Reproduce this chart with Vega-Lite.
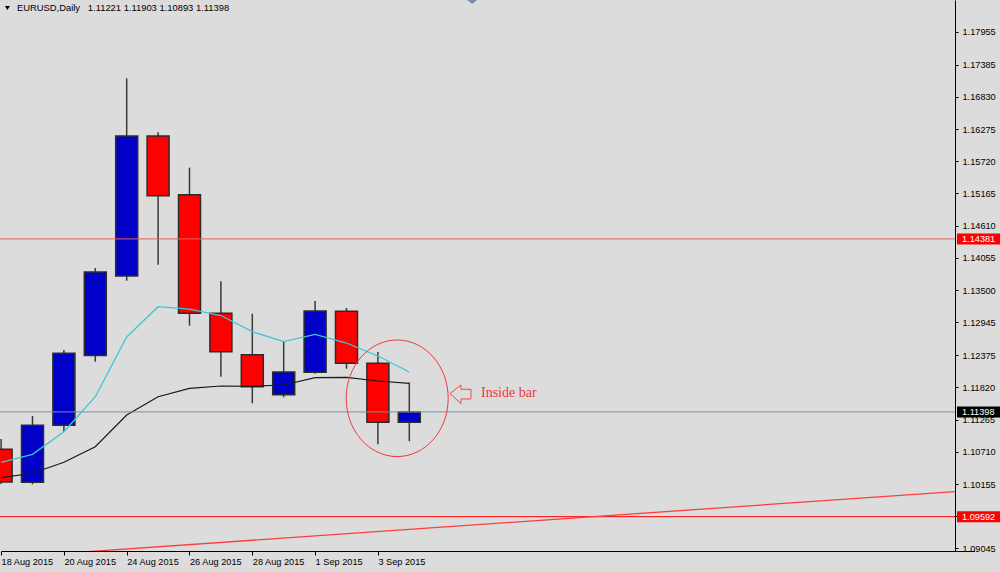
{
  "$schema": "https://vega.github.io/schema/vega-lite/v6.json",
  "width": 955,
  "height": 551,
  "autosize": {"type": "none"},
  "padding": {"left": 0, "top": 0, "right": 45, "bottom": 21},
  "background": "#dcdcdc",
  "config": {
    "view": {"stroke": null, "fill": "#dcdcdc"},
    "font": "Liberation Sans",
    "axis": {"labelFont": "Liberation Sans", "labelFontSize": 9.2, "labelColor": "#000000", "domainColor": "#000000", "tickColor": "#000000", "grid": false, "domainWidth": 1, "tickWidth": 1}
  },
  "resolve": {"axis": {"x": "independent", "y": "independent"}},
  "datasets": {
    "candles": [
      {"date": "18 Aug 2015", "open": 1.10753, "high": 1.10931, "low": 1.10155, "close": 1.10190, "fast": 1.10529, "slow": 1.10264},
      {"date": "19 Aug 2015", "open": 1.10184, "high": 1.11328, "low": 1.10150, "close": 1.11167, "fast": 1.10667, "slow": 1.10340},
      {"date": "20 Aug 2015", "open": 1.11167, "high": 1.12466, "low": 1.11057, "close": 1.12409, "fast": 1.11057, "slow": 1.10529},
      {"date": "21 Aug 2015", "open": 1.12369, "high": 1.13879, "low": 1.12264, "close": 1.13810, "fast": 1.11660, "slow": 1.10798},
      {"date": "24 Aug 2015", "open": 1.13741, "high": 1.17150, "low": 1.13660, "close": 1.16155, "fast": 1.12690, "slow": 1.11345},
      {"date": "25 Aug 2015", "open": 1.16155, "high": 1.16219, "low": 1.13936, "close": 1.15126, "fast": 1.13212, "slow": 1.11660},
      {"date": "26 Aug 2015", "open": 1.15143, "high": 1.15609, "low": 1.12884, "close": 1.13098, "fast": 1.13172, "slow": 1.11805},
      {"date": "27 Aug 2015", "open": 1.13098, "high": 1.13650, "low": 1.12005, "close": 1.12436, "fast": 1.13060, "slow": 1.11845},
      {"date": "28 Aug 2015", "open": 1.12384, "high": 1.13091, "low": 1.11547, "close": 1.11833, "fast": 1.12781, "slow": 1.11840},
      {"date": "31 Aug 2015", "open": 1.11695, "high": 1.12609, "low": 1.11650, "close": 1.12086, "fast": 1.12609, "slow": 1.11862},
      {"date": "1 Sep 2015", "open": 1.12081, "high": 1.13310, "low": 1.12057, "close": 1.13138, "fast": 1.12736, "slow": 1.11988},
      {"date": "2 Sep 2015", "open": 1.13133, "high": 1.13190, "low": 1.12143, "close": 1.12236, "fast": 1.12586, "slow": 1.11995},
      {"date": "3 Sep 2015", "open": 1.12236, "high": 1.12431, "low": 1.10840, "close": 1.11221, "fast": 1.12362, "slow": 1.11931},
      {"date": "4 Sep 2015", "open": 1.11221, "high": 1.11903, "low": 1.10893, "close": 1.11398, "fast": 1.12086, "slow": 1.11891}
    ],
    "levels": [
      {"name": "resistance", "price": 1.14381},
      {"name": "current", "price": 1.11398},
      {"name": "support", "price": 1.09592}
    ],
    "trend": [
      {"from": "20 Aug 2015", "to": "30 Sep 2015", "start": 1.08960, "end": 1.10048}
    ],
    "note": [
      {"date": "4 Sep 2015", "price": 1.11633, "text": "Inside bar"}
    ],
    "header": [
      {"date": "18 Aug 2015", "price": 1.185, "text": "EURUSD,Daily\u00a0\u00a0 1.11221 1.11903 1.10893 1.11398"}
    ],
    "marker": [
      {"date": "8 Sep 2015", "price": 1.185}
    ]
  },
  "layer": [
    {
      "data": {"name": "candles"},
      "mark": {"type": "rule", "color": "#3a3a3a", "strokeWidth": 1.5, "clip": true},
      "encoding": {
        "x": {"field": "date", "type": "ordinal", "title": null, "sort": null,
          "scale": {"type": "point", "padding": 0, "range": [1.1, 974.5], "domain": ["18 Aug 2015","19 Aug 2015","20 Aug 2015","21 Aug 2015","24 Aug 2015","25 Aug 2015","26 Aug 2015","27 Aug 2015","28 Aug 2015","31 Aug 2015","1 Sep 2015","2 Sep 2015","3 Sep 2015","4 Sep 2015","7 Sep 2015","8 Sep 2015","9 Sep 2015","10 Sep 2015","11 Sep 2015","14 Sep 2015","15 Sep 2015","16 Sep 2015","17 Sep 2015","18 Sep 2015","21 Sep 2015","22 Sep 2015","23 Sep 2015","24 Sep 2015","25 Sep 2015","28 Sep 2015","29 Sep 2015","30 Sep 2015"]},
          "axis": {"orient": "bottom", "values": ["18 Aug 2015","20 Aug 2015","24 Aug 2015","26 Aug 2015","28 Aug 2015","1 Sep 2015","3 Sep 2015"], "labelAlign": "left", "labelAngle": 0, "labelPadding": 2, "tickSize": 4, "labelFlush": false, "labelOverlap": false, "domain": true, "ticks": true, "labels": true}},
        "y": {"field": "low", "type": "quantitative", "title": null,
          "scale": {"domain": [1.09, 1.185], "zero": false, "nice": false},
          "axis": {"orient": "right", "values": [1.17955,1.17385,1.1683,1.16275,1.1572,1.15165,1.1461,1.14055,1.135,1.12945,1.12375,1.1182,1.11265,1.1071,1.10155,1.096,1.09045], "format": ".5f", "tickSize": 3, "labelPadding": 4, "labelBaseline": "middle", "labelFlush": false, "labelOverlap": false, "domain": true, "ticks": true, "labels": true}},
        "y2": {"field": "high"}
      }
    },
    {
      "data": {"name": "candles"},
      "mark": {"type": "bar", "width": 22, "stroke": "#2c2c2c", "strokeWidth": 1.5, "clip": true},
      "encoding": {
        "x": {"field": "date", "type": "ordinal", "title": null, "sort": null, "axis": null,
          "scale": {"type": "point", "padding": 0, "range": [1.1, 974.5], "domain": ["18 Aug 2015","19 Aug 2015","20 Aug 2015","21 Aug 2015","24 Aug 2015","25 Aug 2015","26 Aug 2015","27 Aug 2015","28 Aug 2015","31 Aug 2015","1 Sep 2015","2 Sep 2015","3 Sep 2015","4 Sep 2015","7 Sep 2015","8 Sep 2015","9 Sep 2015","10 Sep 2015","11 Sep 2015","14 Sep 2015","15 Sep 2015","16 Sep 2015","17 Sep 2015","18 Sep 2015","21 Sep 2015","22 Sep 2015","23 Sep 2015","24 Sep 2015","25 Sep 2015","28 Sep 2015","29 Sep 2015","30 Sep 2015"]}},
        "y": {"field": "open", "type": "quantitative", "title": null, "axis": null, "scale": {"domain": [1.09, 1.185], "zero": false, "nice": false}},
        "y2": {"field": "close"},
        "fill": {"condition": {"test": "datum.close > datum.open", "value": "#0000c8"}, "value": "#ff0000"}
      }
    },
    {
      "data": {"name": "candles"},
      "mark": {"type": "line", "color": "#3cc8d2", "strokeWidth": 1.3, "clip": true},
      "encoding": {
        "x": {"field": "date", "type": "ordinal", "title": null, "sort": null, "axis": null,
          "scale": {"type": "point", "padding": 0, "range": [1.1, 974.5], "domain": ["18 Aug 2015","19 Aug 2015","20 Aug 2015","21 Aug 2015","24 Aug 2015","25 Aug 2015","26 Aug 2015","27 Aug 2015","28 Aug 2015","31 Aug 2015","1 Sep 2015","2 Sep 2015","3 Sep 2015","4 Sep 2015","7 Sep 2015","8 Sep 2015","9 Sep 2015","10 Sep 2015","11 Sep 2015","14 Sep 2015","15 Sep 2015","16 Sep 2015","17 Sep 2015","18 Sep 2015","21 Sep 2015","22 Sep 2015","23 Sep 2015","24 Sep 2015","25 Sep 2015","28 Sep 2015","29 Sep 2015","30 Sep 2015"]}},
        "y": {"field": "fast", "type": "quantitative", "title": null, "axis": null, "scale": {"domain": [1.09, 1.185], "zero": false, "nice": false}}
      }
    },
    {
      "data": {"name": "candles"},
      "mark": {"type": "line", "color": "#1a1a1a", "strokeWidth": 1.2, "clip": true},
      "encoding": {
        "x": {"field": "date", "type": "ordinal", "title": null, "sort": null, "axis": null,
          "scale": {"type": "point", "padding": 0, "range": [1.1, 974.5], "domain": ["18 Aug 2015","19 Aug 2015","20 Aug 2015","21 Aug 2015","24 Aug 2015","25 Aug 2015","26 Aug 2015","27 Aug 2015","28 Aug 2015","31 Aug 2015","1 Sep 2015","2 Sep 2015","3 Sep 2015","4 Sep 2015","7 Sep 2015","8 Sep 2015","9 Sep 2015","10 Sep 2015","11 Sep 2015","14 Sep 2015","15 Sep 2015","16 Sep 2015","17 Sep 2015","18 Sep 2015","21 Sep 2015","22 Sep 2015","23 Sep 2015","24 Sep 2015","25 Sep 2015","28 Sep 2015","29 Sep 2015","30 Sep 2015"]}},
        "y": {"field": "slow", "type": "quantitative", "title": null, "axis": null, "scale": {"domain": [1.09, 1.185], "zero": false, "nice": false}}
      }
    },
    {
      "data": {"name": "levels"},
      "mark": {"type": "rule", "strokeWidth": 1},
      "encoding": {
        "y": {"field": "price", "type": "quantitative", "title": null, "axis": null, "scale": {"domain": [1.09, 1.185], "zero": false, "nice": false}},
        "stroke": {"field": "name", "type": "nominal", "legend": null, "scale": {"domain": ["resistance", "current", "support"], "range": ["#e86060", "#7890a8", "#ff0000"]}}
      }
    },
    {
      "data": {"name": "trend"},
      "mark": {"type": "rule", "color": "#ff3c3c", "strokeWidth": 1.3, "clip": true},
      "encoding": {
        "x": {"field": "from", "type": "ordinal", "title": null, "sort": null, "axis": null,
          "scale": {"type": "point", "padding": 0, "range": [1.1, 974.5], "domain": ["18 Aug 2015","19 Aug 2015","20 Aug 2015","21 Aug 2015","24 Aug 2015","25 Aug 2015","26 Aug 2015","27 Aug 2015","28 Aug 2015","31 Aug 2015","1 Sep 2015","2 Sep 2015","3 Sep 2015","4 Sep 2015","7 Sep 2015","8 Sep 2015","9 Sep 2015","10 Sep 2015","11 Sep 2015","14 Sep 2015","15 Sep 2015","16 Sep 2015","17 Sep 2015","18 Sep 2015","21 Sep 2015","22 Sep 2015","23 Sep 2015","24 Sep 2015","25 Sep 2015","28 Sep 2015","29 Sep 2015","30 Sep 2015"]}},
        "x2": {"field": "to"},
        "y": {"field": "start", "type": "quantitative", "title": null, "axis": null, "scale": {"domain": [1.09, 1.185], "zero": false, "nice": false}},
        "y2": {"field": "end"}
      }
    },
    {
      "data": {"name": "levels"},
      "mark": {"type": "point", "filled": true, "opacity": 1, "strokeWidth": 0, "size": 2500, "shape": "M0.556,-0.22H2.4V0.22H0.556Z"},
      "encoding": {
        "x": {"datum": "29 Sep 2015", "type": "ordinal", "title": null, "axis": null,
          "scale": {"type": "point", "padding": 0, "range": [1.1, 974.5], "domain": ["18 Aug 2015","19 Aug 2015","20 Aug 2015","21 Aug 2015","24 Aug 2015","25 Aug 2015","26 Aug 2015","27 Aug 2015","28 Aug 2015","31 Aug 2015","1 Sep 2015","2 Sep 2015","3 Sep 2015","4 Sep 2015","7 Sep 2015","8 Sep 2015","9 Sep 2015","10 Sep 2015","11 Sep 2015","14 Sep 2015","15 Sep 2015","16 Sep 2015","17 Sep 2015","18 Sep 2015","21 Sep 2015","22 Sep 2015","23 Sep 2015","24 Sep 2015","25 Sep 2015","28 Sep 2015","29 Sep 2015","30 Sep 2015"]}},
        "y": {"field": "price", "type": "quantitative", "title": null, "axis": null, "scale": {"domain": [1.09, 1.185], "zero": false, "nice": false}},
        "fill": {"field": "name", "type": "nominal", "legend": null, "scale": {"domain": ["resistance", "current", "support"], "range": ["#ff0000", "#000000", "#ff0000"]}}
      }
    },
    {
      "data": {"name": "levels"},
      "mark": {"type": "text", "align": "left", "baseline": "middle", "dx": 18.9, "fontSize": 9.2, "font": "Liberation Sans", "color": "#ffffff"},
      "encoding": {
        "x": {"datum": "29 Sep 2015", "type": "ordinal", "title": null, "axis": null,
          "scale": {"type": "point", "padding": 0, "range": [1.1, 974.5], "domain": ["18 Aug 2015","19 Aug 2015","20 Aug 2015","21 Aug 2015","24 Aug 2015","25 Aug 2015","26 Aug 2015","27 Aug 2015","28 Aug 2015","31 Aug 2015","1 Sep 2015","2 Sep 2015","3 Sep 2015","4 Sep 2015","7 Sep 2015","8 Sep 2015","9 Sep 2015","10 Sep 2015","11 Sep 2015","14 Sep 2015","15 Sep 2015","16 Sep 2015","17 Sep 2015","18 Sep 2015","21 Sep 2015","22 Sep 2015","23 Sep 2015","24 Sep 2015","25 Sep 2015","28 Sep 2015","29 Sep 2015","30 Sep 2015"]}},
        "y": {"field": "price", "type": "quantitative", "title": null, "axis": null, "scale": {"domain": [1.09, 1.185], "zero": false, "nice": false}},
        "text": {"field": "price", "type": "quantitative", "format": ".5f"}
      }
    },
    {
      "data": {"name": "note"},
      "mark": {"type": "point", "filled": false, "opacity": 1, "color": "#f03a3a", "strokeWidth": 1, "size": 10000, "shape": "M-1.262,0A1.02,1.166,0,1,0,0.778,0A1.02,1.166,0,1,0,-1.262,0Z"},
      "encoding": {
        "x": {"field": "date", "type": "ordinal", "title": null, "axis": null,
          "scale": {"type": "point", "padding": 0, "range": [1.1, 974.5], "domain": ["18 Aug 2015","19 Aug 2015","20 Aug 2015","21 Aug 2015","24 Aug 2015","25 Aug 2015","26 Aug 2015","27 Aug 2015","28 Aug 2015","31 Aug 2015","1 Sep 2015","2 Sep 2015","3 Sep 2015","4 Sep 2015","7 Sep 2015","8 Sep 2015","9 Sep 2015","10 Sep 2015","11 Sep 2015","14 Sep 2015","15 Sep 2015","16 Sep 2015","17 Sep 2015","18 Sep 2015","21 Sep 2015","22 Sep 2015","23 Sep 2015","24 Sep 2015","25 Sep 2015","28 Sep 2015","29 Sep 2015","30 Sep 2015"]}},
        "y": {"field": "price", "type": "quantitative", "title": null, "axis": null, "scale": {"domain": [1.09, 1.185], "zero": false, "nice": false}}
      }
    },
    {
      "data": {"name": "note"},
      "mark": {"type": "point", "filled": false, "opacity": 1, "color": "#f04848", "strokeWidth": 1, "size": 10000, "shape": "M0.814,-0.096L1.034,-0.266L1.034,-0.18L1.234,-0.18L1.234,0.014L1.034,0.014L1.034,0.108Z"},
      "encoding": {
        "x": {"field": "date", "type": "ordinal", "title": null, "axis": null,
          "scale": {"type": "point", "padding": 0, "range": [1.1, 974.5], "domain": ["18 Aug 2015","19 Aug 2015","20 Aug 2015","21 Aug 2015","24 Aug 2015","25 Aug 2015","26 Aug 2015","27 Aug 2015","28 Aug 2015","31 Aug 2015","1 Sep 2015","2 Sep 2015","3 Sep 2015","4 Sep 2015","7 Sep 2015","8 Sep 2015","9 Sep 2015","10 Sep 2015","11 Sep 2015","14 Sep 2015","15 Sep 2015","16 Sep 2015","17 Sep 2015","18 Sep 2015","21 Sep 2015","22 Sep 2015","23 Sep 2015","24 Sep 2015","25 Sep 2015","28 Sep 2015","29 Sep 2015","30 Sep 2015"]}},
        "y": {"field": "price", "type": "quantitative", "title": null, "axis": null, "scale": {"domain": [1.09, 1.185], "zero": false, "nice": false}}
      }
    },
    {
      "data": {"name": "note"},
      "mark": {"type": "text", "align": "left", "baseline": "middle", "dx": 71.7, "dy": -5, "fontSize": 14, "font": "Liberation Serif", "color": "#e63a3a"},
      "encoding": {
        "x": {"field": "date", "type": "ordinal", "title": null, "axis": null,
          "scale": {"type": "point", "padding": 0, "range": [1.1, 974.5], "domain": ["18 Aug 2015","19 Aug 2015","20 Aug 2015","21 Aug 2015","24 Aug 2015","25 Aug 2015","26 Aug 2015","27 Aug 2015","28 Aug 2015","31 Aug 2015","1 Sep 2015","2 Sep 2015","3 Sep 2015","4 Sep 2015","7 Sep 2015","8 Sep 2015","9 Sep 2015","10 Sep 2015","11 Sep 2015","14 Sep 2015","15 Sep 2015","16 Sep 2015","17 Sep 2015","18 Sep 2015","21 Sep 2015","22 Sep 2015","23 Sep 2015","24 Sep 2015","25 Sep 2015","28 Sep 2015","29 Sep 2015","30 Sep 2015"]}},
        "y": {"field": "price", "type": "quantitative", "title": null, "axis": null, "scale": {"domain": [1.09, 1.185], "zero": false, "nice": false}},
        "text": {"field": "text", "type": "nominal"}
      }
    },
    {
      "data": {"name": "header"},
      "mark": {"type": "point", "filled": true, "opacity": 1, "color": "#000000", "strokeWidth": 0, "size": 100, "shape": "M0.75,1.2L1.75,1.2L1.25,2Z"},
      "encoding": {
        "x": {"field": "date", "type": "ordinal", "title": null, "axis": null,
          "scale": {"type": "point", "padding": 0, "range": [1.1, 974.5], "domain": ["18 Aug 2015","19 Aug 2015","20 Aug 2015","21 Aug 2015","24 Aug 2015","25 Aug 2015","26 Aug 2015","27 Aug 2015","28 Aug 2015","31 Aug 2015","1 Sep 2015","2 Sep 2015","3 Sep 2015","4 Sep 2015","7 Sep 2015","8 Sep 2015","9 Sep 2015","10 Sep 2015","11 Sep 2015","14 Sep 2015","15 Sep 2015","16 Sep 2015","17 Sep 2015","18 Sep 2015","21 Sep 2015","22 Sep 2015","23 Sep 2015","24 Sep 2015","25 Sep 2015","28 Sep 2015","29 Sep 2015","30 Sep 2015"]}},
        "y": {"field": "price", "type": "quantitative", "title": null, "axis": null, "scale": {"domain": [1.09, 1.185], "zero": false, "nice": false}}
      }
    },
    {
      "data": {"name": "header"},
      "mark": {"type": "text", "align": "left", "baseline": "alphabetic", "dx": 15.9, "dy": 11, "fontSize": 9.4, "font": "Liberation Sans", "color": "#000000"},
      "encoding": {
        "x": {"field": "date", "type": "ordinal", "title": null, "axis": null,
          "scale": {"type": "point", "padding": 0, "range": [1.1, 974.5], "domain": ["18 Aug 2015","19 Aug 2015","20 Aug 2015","21 Aug 2015","24 Aug 2015","25 Aug 2015","26 Aug 2015","27 Aug 2015","28 Aug 2015","31 Aug 2015","1 Sep 2015","2 Sep 2015","3 Sep 2015","4 Sep 2015","7 Sep 2015","8 Sep 2015","9 Sep 2015","10 Sep 2015","11 Sep 2015","14 Sep 2015","15 Sep 2015","16 Sep 2015","17 Sep 2015","18 Sep 2015","21 Sep 2015","22 Sep 2015","23 Sep 2015","24 Sep 2015","25 Sep 2015","28 Sep 2015","29 Sep 2015","30 Sep 2015"]}},
        "y": {"field": "price", "type": "quantitative", "title": null, "axis": null, "scale": {"domain": [1.09, 1.185], "zero": false, "nice": false}},
        "text": {"field": "text", "type": "nominal"}
      }
    },
    {
      "data": {"name": "marker"},
      "mark": {"type": "point", "filled": true, "opacity": 1, "color": "#7a8fa6", "strokeWidth": 0, "size": 100, "shape": "M-1,0L1,0L0,0.8Z"},
      "encoding": {
        "x": {"field": "date", "type": "ordinal", "title": null, "axis": null,
          "scale": {"type": "point", "padding": 0, "range": [1.1, 974.5], "domain": ["18 Aug 2015","19 Aug 2015","20 Aug 2015","21 Aug 2015","24 Aug 2015","25 Aug 2015","26 Aug 2015","27 Aug 2015","28 Aug 2015","31 Aug 2015","1 Sep 2015","2 Sep 2015","3 Sep 2015","4 Sep 2015","7 Sep 2015","8 Sep 2015","9 Sep 2015","10 Sep 2015","11 Sep 2015","14 Sep 2015","15 Sep 2015","16 Sep 2015","17 Sep 2015","18 Sep 2015","21 Sep 2015","22 Sep 2015","23 Sep 2015","24 Sep 2015","25 Sep 2015","28 Sep 2015","29 Sep 2015","30 Sep 2015"]}},
        "y": {"field": "price", "type": "quantitative", "title": null, "axis": null, "scale": {"domain": [1.09, 1.185], "zero": false, "nice": false}}
      }
    }
  ]
}
